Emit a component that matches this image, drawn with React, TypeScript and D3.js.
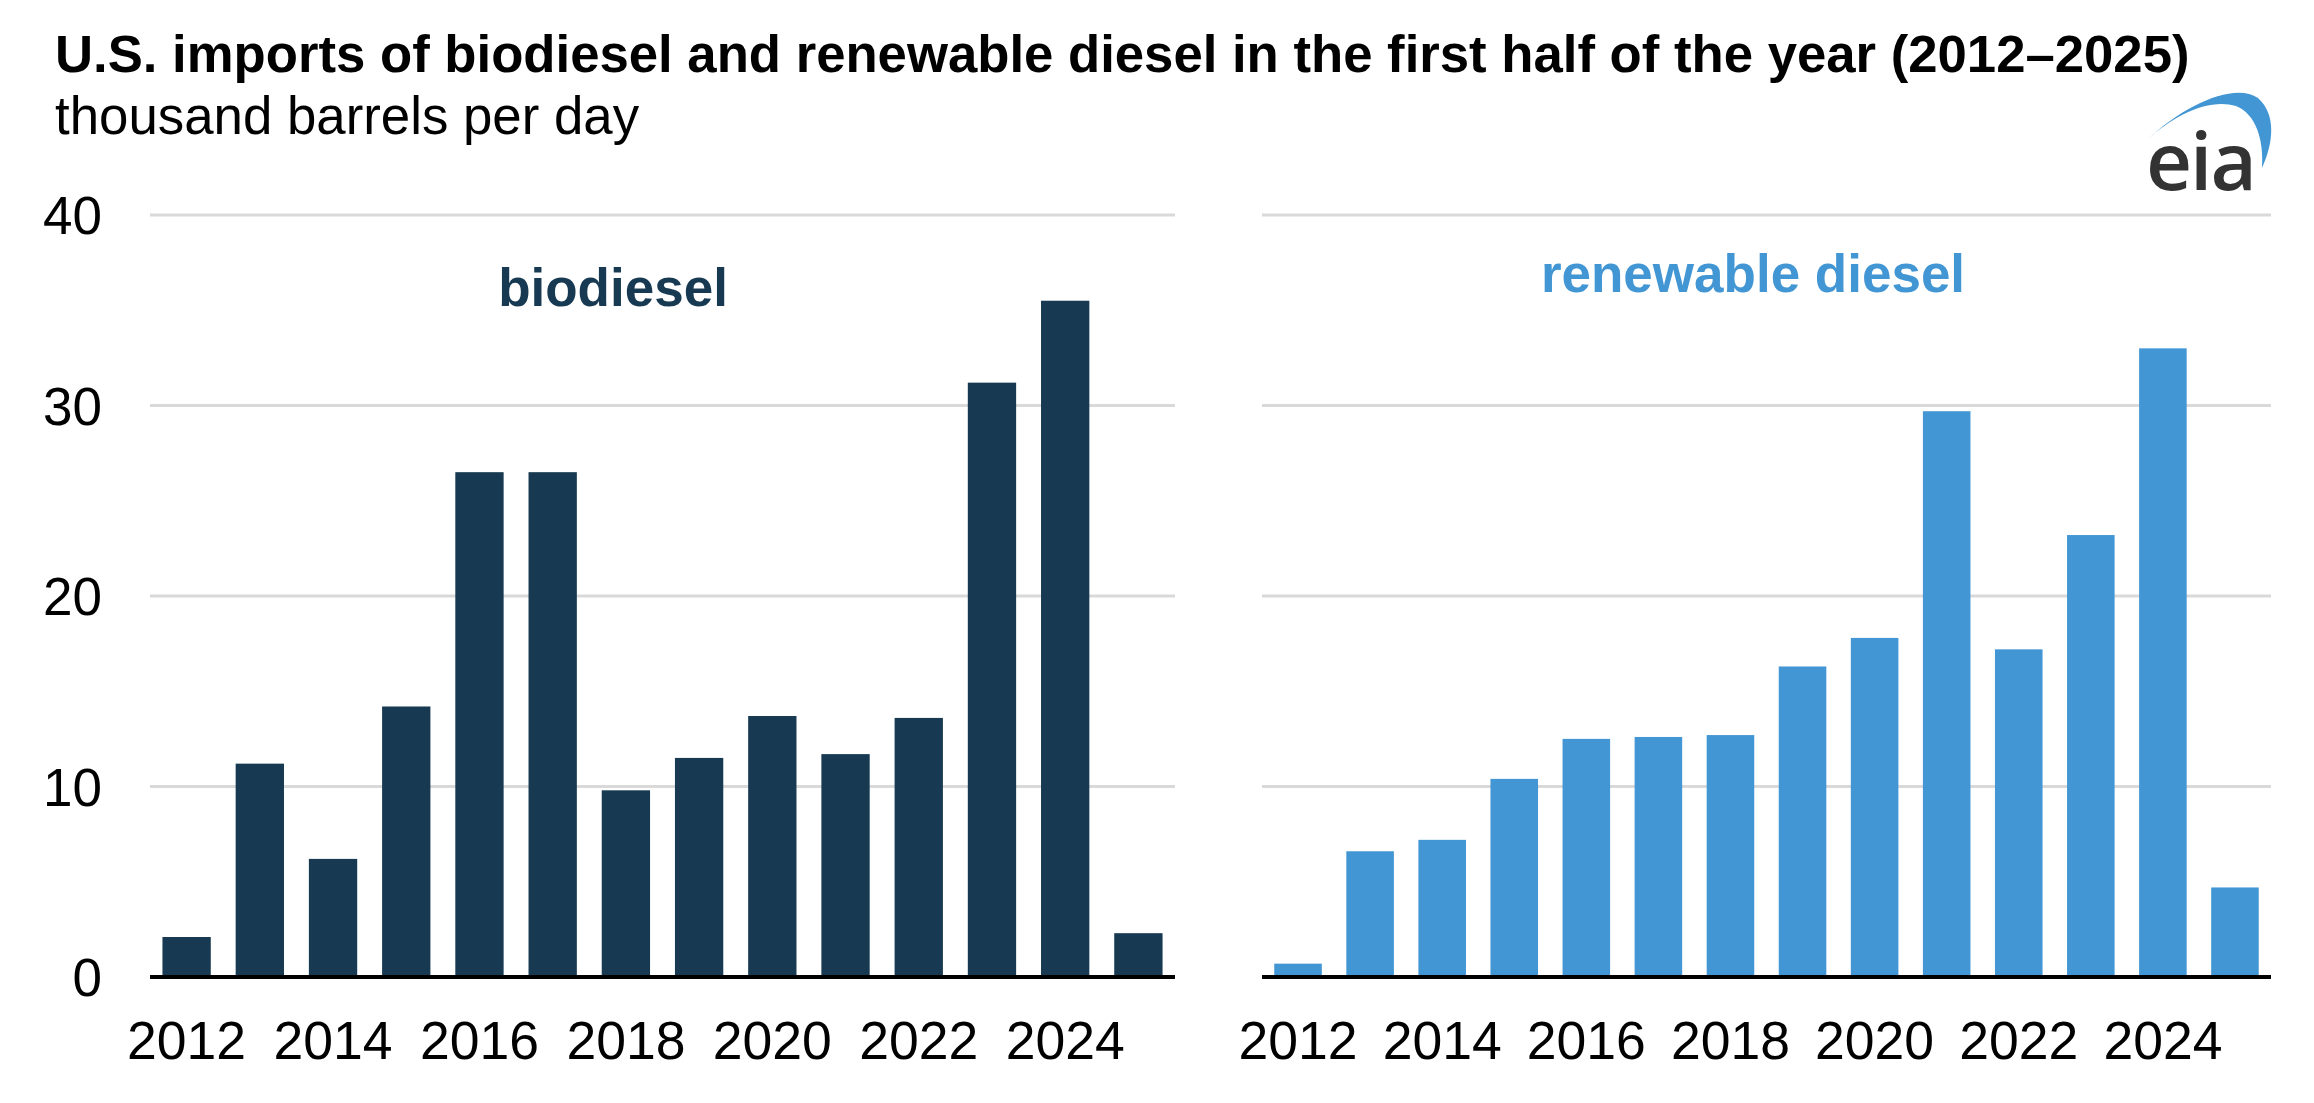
import * as d3 from 'd3';

const years = [2012, 2013, 2014, 2015, 2016, 2017, 2018, 2019, 2020, 2021, 2022, 2023, 2024, 2025];
const biodiesel = [2.1, 11.2, 6.2, 14.2, 26.5, 26.5, 9.8, 11.5, 13.7, 11.7, 13.6, 31.2, 35.5, 2.3];
const renewableDiesel = [0.7, 6.6, 7.2, 10.4, 12.5, 12.6, 12.7, 16.3, 17.8, 29.7, 17.2, 23.2, 33.0, 4.7];
const yTicks = [0, 10, 20, 30, 40];
const xTickYears = [2012, 2014, 2016, 2018, 2020, 2022, 2024];

const W = 2314;
const H = 1103;
const FONT = '"Liberation Sans", Arial, Helvetica, sans-serif';

const y = d3.scaleLinear().domain([0, 40]).range([977, 215]);

type PanelProps = {
  x0: number;
  x1: number;
  values: number[];
  color: string;
  label: string;
  labelX: number;
  labelY: number;
  showYAxis: boolean;
};

function Panel({ x0, x1, values, color, label, labelX, labelY, showYAxis }: PanelProps) {
  const x = d3
    .scaleBand<number>()
    .domain(years)
    .range([x0, x1])
    .paddingInner(0.34)
    .paddingOuter(0.17);

  return (
    <g>
      {yTicks
        .filter((t) => t > 0)
        .map((t) => (
          <line key={t} x1={x0} x2={x1} y1={y(t)} y2={y(t)} stroke="#d9d9d9" strokeWidth={3} />
        ))}
      {showYAxis &&
        yTicks.map((t) => (
          <text
            key={t}
            x={102}
            y={y(t)}
            dy="0.36em"
            textAnchor="end"
            fontSize={53}
            fontFamily={FONT}
            fill="#000"
          >
            {t}
          </text>
        ))}
      {values.map((v, i) => (
        <rect
          key={years[i]}
          x={x(years[i])}
          y={y(v)}
          width={x.bandwidth()}
          height={y(0) - y(v)}
          fill={color}
        />
      ))}
      <line x1={x0} x2={x1} y1={y(0)} y2={y(0)} stroke="#000" strokeWidth={4} />
      {xTickYears.map((yr) => (
        <text
          key={yr}
          x={(x(yr) ?? 0) + x.bandwidth() / 2}
          y={1059}
          textAnchor="middle"
          fontSize={53.5}
          fontFamily={FONT}
          fill="#000"
        >
          {yr}
        </text>
      ))}
      <text
        x={labelX}
        y={labelY}
        textAnchor="middle"
        fontSize={53}
        fontWeight="bold"
        fontFamily={FONT}
        fill={color}
      >
        {label}
      </text>
    </g>
  );
}

function EiaLogo() {
  return (
    <g>
      <path
        d="M2147 140 C2185 104 2235 82 2258 98 C2276 114 2274 142 2262 168 C2264 140 2256 114 2236 106 C2210 98 2175 114 2147 140 Z"
        fill="#4296d4"
      />
      <text
        x={2146}
        y={190}
        fontSize={80}
        fontWeight={600}
        fontFamily='"Open Sans", "Liberation Sans", sans-serif'
        fill="#333333"
        letterSpacing={-2}
      >
        eia
      </text>
    </g>
  );
}

export default function App() {
  return (
    <div style={{ position: 'absolute', left: 0, top: 0 }}>
      <svg width={W} height={H} style={{ display: 'block', background: '#fff' }}>
        <text x={55} y={72} fontSize={52.7} fontWeight="bold" fontFamily={FONT} fill="#000">
          U.S. imports of biodiesel and renewable diesel in the first half of the year (2012–2025)
        </text>
        <text x={55} y={134} fontSize={52.8} fontFamily={FONT} fill="#000">
          thousand barrels per day
        </text>
        <EiaLogo />
        <Panel
          x0={150}
          x1={1175}
          values={biodiesel}
          color="#173a52"
          label="biodiesel"
          labelX={613}
          labelY={306}
          showYAxis
        />
        <Panel
          x0={1262}
          x1={2271}
          values={renewableDiesel}
          color="#4296d4"
          label="renewable diesel"
          labelX={1753}
          labelY={292}
          showYAxis={false}
        />
      </svg>
    </div>
  );
}
